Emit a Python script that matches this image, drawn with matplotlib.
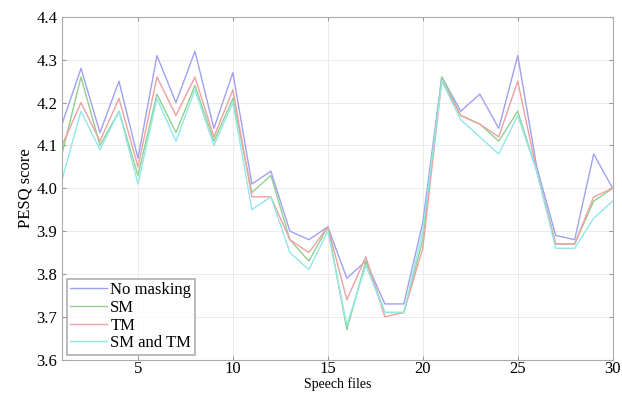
import numpy as np
import matplotlib
matplotlib.use("Agg")
import matplotlib.pyplot as plt

files = np.arange(1, 31)
no_masking = [4.15, 4.28, 4.13, 4.25, 4.07, 4.31, 4.20, 4.32, 4.14, 4.27,
              4.01, 4.04, 3.90, 3.88, 3.91, 3.79, 3.83, 3.73, 3.73, 3.92,
              4.26, 4.18, 4.22, 4.14, 4.31, 4.05, 3.89, 3.88, 4.08, 4.00]
sm = [4.08, 4.26, 4.10, 4.18, 4.03, 4.22, 4.13, 4.24, 4.11, 4.21,
      3.99, 4.03, 3.88, 3.83, 3.91, 3.67, 3.83, 3.71, 3.71, 3.88,
      4.26, 4.17, 4.15, 4.11, 4.18, 4.04, 3.87, 3.87, 3.97, 4.00]
tm = [4.10, 4.20, 4.11, 4.21, 4.05, 4.26, 4.17, 4.26, 4.12, 4.23,
      3.98, 3.98, 3.88, 3.85, 3.91, 3.74, 3.84, 3.70, 3.71, 3.86,
      4.25, 4.17, 4.15, 4.12, 4.25, 4.04, 3.87, 3.87, 3.98, 4.00]
sm_tm = [4.02, 4.18, 4.09, 4.18, 4.01, 4.21, 4.11, 4.23, 4.10, 4.20,
         3.95, 3.98, 3.85, 3.81, 3.90, 3.68, 3.82, 3.71, 3.71, 3.90,
         4.25, 4.16, 4.12, 4.08, 4.17, 4.04, 3.86, 3.86, 3.93, 3.97]

plt.rcParams['font.family'] = ['Liberation Serif', 'DejaVu Serif']

fig = plt.figure(figsize=(6.22, 3.93), dpi=100)
ax = fig.add_axes([0.0997, 0.085, 0.8853, 0.8717])

ax.plot(files, no_masking, color='#a0a0f0', lw=1.0, label='No masking')
ax.plot(files, sm, color='#90d090', lw=1.0, label='SM')
ax.plot(files, tm, color='#f0a0a0', lw=1.0, label='TM')
ax.plot(files, sm_tm, color='#90e8e8', lw=1.0, label='SM and TM')

ax.set_xlim(1, 30)
ax.set_ylim(3.6, 4.4)
ax.set_xticks([5, 10, 15, 20, 25, 30])
ax.set_yticks(np.arange(3.6, 4.41, 0.1))
ax.set_yticklabels(['%.1f' % v for v in np.arange(3.6, 4.41, 0.1)])
ax.grid(True, color='#e8e8e8', lw=0.6)
ax.tick_params(direction='in', top=True, right=True, labelsize=12,
               color='#999999', length=3)
ax.tick_params(axis='x', pad=1)
for s in ax.spines.values():
    s.set_color('#aaaaaa')

ax.set_xlabel('Speech files', fontsize=10, labelpad=0)
ax.set_ylabel('PESQ score', fontsize=12, labelpad=2)

leg = ax.legend(loc='lower left', fontsize=12, fancybox=False,
                borderaxespad=0.3, handlelength=2.2, handletextpad=0.2,
                labelspacing=0.1, borderpad=0.2)
leg.get_frame().set_edgecolor('#999999')
leg.get_frame().set_linewidth(1.2)

fig.savefig('out.png', dpi=100)
